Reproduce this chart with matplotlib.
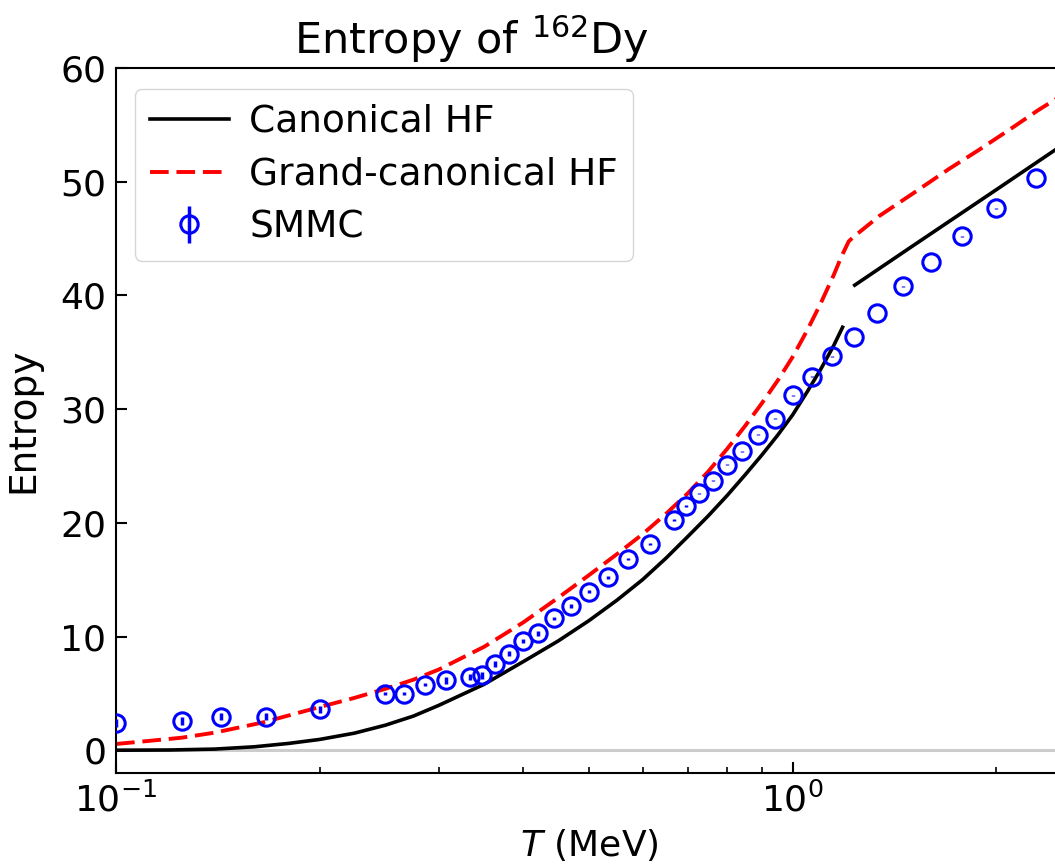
import numpy as np
import matplotlib
matplotlib.use("Agg")
import matplotlib.pyplot as plt

# ========== Données ==========
# SMMC (T en MeV, entropie, barre d'erreur)
T_smmc = [0.1, 0.125, 0.1429, 0.1667, 0.2, 0.25, 0.2667, 0.2857, 0.3077, 0.3333,
          0.3478, 0.3636, 0.381, 0.4, 0.421, 0.4444, 0.4706, 0.5, 0.5333, 0.5714,
          0.6154, 0.6667, 0.6957, 0.7273, 0.7619, 0.8, 0.8421, 0.8889, 0.9412, 1.0,
          1.0667, 1.1429, 1.2308, 1.3333, 1.4545, 1.6, 1.7778, 2.0, 2.2857]
S_smmc = [2.37, 2.57, 2.96, 2.96, 3.6, 4.98, 4.98, 5.77, 6.15, 6.44,
          6.59, 7.56, 8.5, 9.6, 10.28, 11.6, 12.7, 13.95, 15.2, 16.8,
          18.16, 20.24, 21.47, 22.58, 23.7, 25.1, 26.3, 27.74, 29.17, 31.2,
          32.86, 34.65, 36.35, 38.46, 40.8, 42.94, 45.2, 47.65, 50.32]
err_smmc = [0.35, 0.35, 0.32, 0.3, 0.3, 0.12, 0.12, 0.12, 0.3, 0.3,
            0.3, 0.25, 0.25, 0.2, 0.2, 0.15, 0.15, 0.12, 0.12, 0.1,
            0.1, 0.07, 0.07, 0.06, 0.06, 0.05, 0.05, 0.05, 0.05, 0.04,
            0.04, 0.03, 0.03, 0.03, 0.03, 0.03, 0.03, 0.03, 0.03]

# HF canonique (deux branches, saut vers T ~ 1.2 MeV)
T_can_low = [0.1, 0.12, 0.14, 0.16, 0.18, 0.2, 0.225, 0.25, 0.275, 0.3, 0.35, 0.4,
             0.45, 0.5, 0.55, 0.6, 0.65, 0.7, 0.75, 0.8, 0.85, 0.9, 0.95, 1.0,
             1.05, 1.1, 1.15, 1.185]
S_can_low = [0.0, 0.02, 0.1, 0.3, 0.6, 0.95, 1.5, 2.2, 3.0, 3.95, 5.8, 7.8,
             9.6, 11.4, 13.2, 15.0, 16.9, 18.8, 20.6, 22.4, 24.2, 25.95, 27.7, 29.5,
             31.5, 33.5, 35.6, 37.2]
T_can_high = [1.235, 1.5, 2.0, 2.5]
S_can_high = [40.9, 44.3, 49.3, 53.2]

# HF grand-canonique
T_gc = [0.1, 0.11, 0.125, 0.14, 0.165, 0.2, 0.225, 0.25, 0.275, 0.3, 0.35, 0.4,
        0.45, 0.5, 0.55, 0.6, 0.65, 0.7, 0.75, 0.8, 0.85, 0.9, 0.95, 1.0,
        1.05, 1.1, 1.15, 1.18, 1.2, 1.21, 1.23, 1.26, 1.3, 1.34, 1.5, 1.7,
        1.885, 2.1, 2.3, 2.5]
S_gc = [0.55, 0.78, 1.1, 1.55, 2.45, 3.8, 4.6, 5.4, 6.2, 7.1, 9.1, 11.25,
        13.4, 15.4, 17.25, 19.0, 20.8, 22.6, 24.5, 26.5, 28.5, 30.5, 32.5, 34.6,
        36.9, 39.3, 41.8, 43.4, 44.3, 44.75, 45.15, 45.65, 46.3, 46.95, 48.9, 51.1,
        52.8, 54.65, 56.25, 57.6]

# ========== Style ==========
plt.rcParams['font.family'] = ['DejaVu Sans']
fs = 26

fig = plt.figure(figsize=(10.55, 8.65), dpi=100)
ax = fig.add_axes([0.110, 0.1064, 1.0066 - 0.110, 0.9214 - 0.1064])

ax.axhline(0, color='0.8', lw=2.2, zorder=0)
ax.plot(T_can_low, S_can_low, color='black', lw=2.6, label='Canonical HF')
ax.plot(T_can_high, S_can_high, color='black', lw=2.6)
ax.plot(T_gc, S_gc, color='red', lw=2.8, ls='--', dashes=(4.8, 2.0), label='Grand-canonical HF')
ax.errorbar(T_smmc, S_smmc, yerr=err_smmc, fmt='o', mfc='none', mec='blue',
            color='blue', ecolor='blue', elinewidth=2.5, ms=12.5, mew=2.2,
            label='SMMC', zorder=3)

ax.set_xscale('log')
ax.set_xlim(0.1, 2.5)
ax.set_ylim(-2, 60)
ax.set_yticks([0, 10, 20, 30, 40, 50, 60])

ax.tick_params(axis='both', which='major', direction='in', length=8, width=1.5,
               labelsize=fs, top=False, right=False, pad=7)
ax.tick_params(axis='both', which='minor', direction='in', length=4.5, width=1.2,
               top=False, right=False)
for sp in ax.spines.values():
    sp.set_linewidth(1.5)

ax.set_xlabel(r'$T$ (MeV)', fontsize=26, labelpad=6)
ax.set_ylabel('Entropy', fontsize=27, labelpad=14)
ax.set_title(r'Entropy of $^{162}$Dy', fontsize=31, x=0.376, pad=10)

ax.legend(loc='upper left', fontsize=27, handlelength=2.1, borderpad=0.4,
          labelspacing=0.45, handletextpad=0.55, bbox_to_anchor=(0.0, 0.997))

fig.savefig('out.png', dpi=100)
